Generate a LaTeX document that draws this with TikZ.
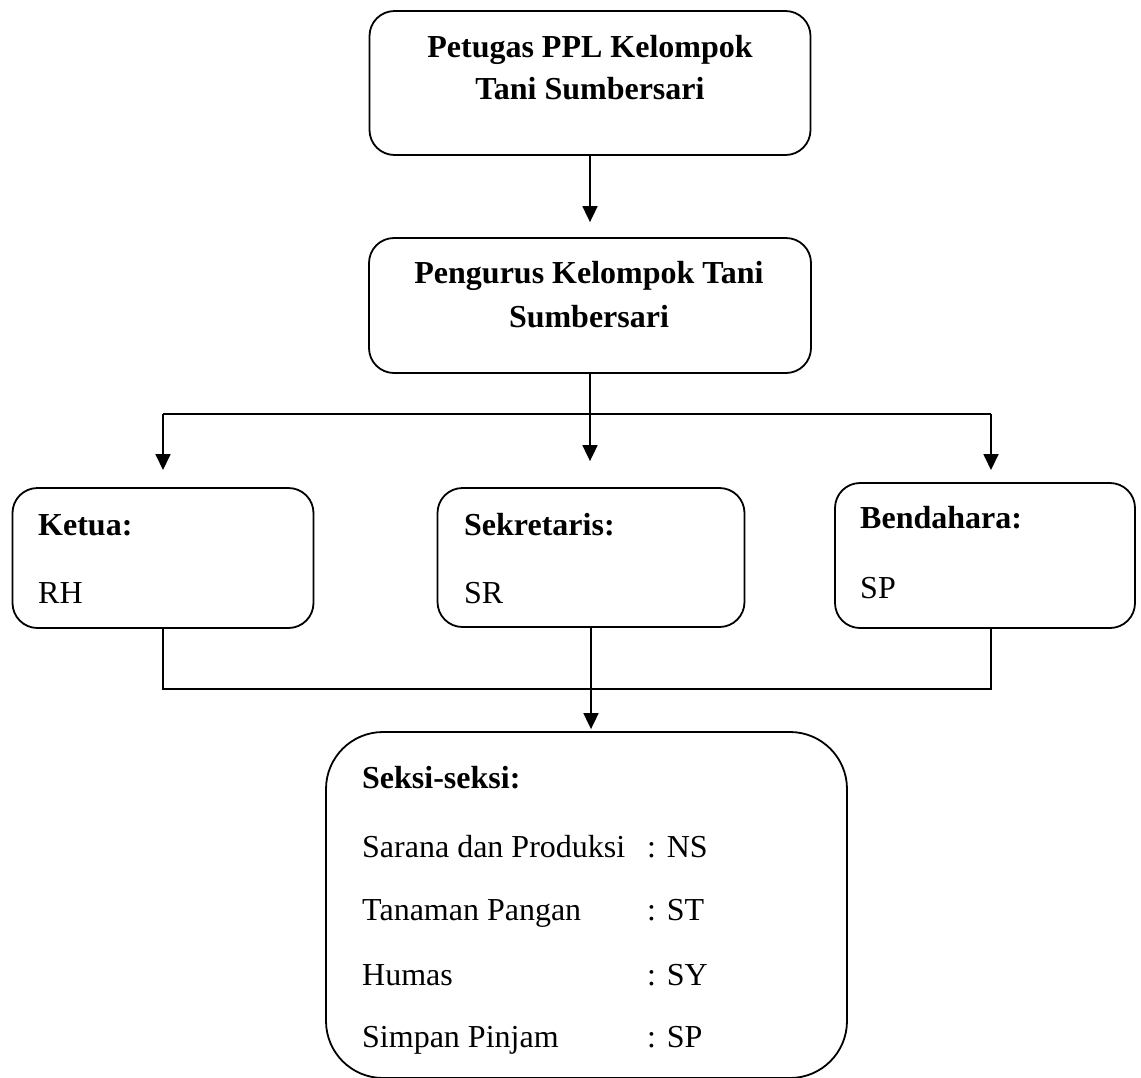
\documentclass[tikz,border=0pt]{standalone}
\usepackage{fontspec}
\setmainfont{Liberation Serif}
\usetikzlibrary{arrows.meta}
\begin{document}
\begin{tikzpicture}[x=1pt,y=-1pt,
  box/.style={draw, line width=1.8pt, rounded corners=25pt, inner sep=0pt},
  bigbox/.style={draw, line width=1.8pt, rounded corners=57pt, inner sep=0pt},
  txt/.style={font=\fontsize{32}{43}\selectfont, inner sep=0pt},
  btxt/.style={font=\fontsize{32}{43}\selectfont\bfseries, inner sep=0pt},
  conn/.style={line width=1.8pt},
  arr/.style={line width=1.8pt, -{Triangle[width=15pt,length=16pt]}}
]
\useasboundingbox (0,0) rectangle (1141,1077);
\clip (0,0) rectangle (1141,1077);
\fill[white] (0,0) rectangle (1141,1077);

% boxes
\node[box, minimum width=441pt, minimum height=144pt] (top) at (590,83) {};
\node[box, minimum width=442pt, minimum height=135pt] (mid) at (590,305.5) {};
\node[box, minimum width=301pt, minimum height=140pt] (ket) at (163,558) {};
\node[box, minimum width=307pt, minimum height=139pt] (sek) at (591,557.5) {};
\node[box, minimum width=300pt, minimum height=145pt] (ben) at (985,555.5) {};
\node[bigbox, minimum width=521pt, minimum height=346pt] (sek2) at (586.5,905) {};

% texts
\node[btxt, anchor=base] (t1) at (590,57) {Petugas PPL Kelompok};
\node[btxt, anchor=base] (t2) at (590,99) {Tani Sumbersari};
\node[btxt, anchor=base] (m1) at (589,283) {Pengurus Kelompok Tani};
\node[btxt, anchor=base] (m2) at (589,327) {Sumbersari};

\node[btxt, anchor=base west] (k1) at (38,535) {Ketua:};
\node[txt, anchor=base west] (k2) at (38,603) {RH};
\node[btxt, anchor=base west] (s1) at (464,535) {Sekretaris:};
\node[txt, anchor=base west] (s2) at (464,603) {SR};
\node[btxt, anchor=base west] (b1) at (860,528) {Bendahara:};
\node[txt, anchor=base west] (b2) at (860,598) {SP};

\node[btxt, anchor=base west] (x0) at (362,788) {Seksi-seksi:};
\node[txt, anchor=base west] (x1) at (362,857) {Sarana dan Produksi};
\node[txt, anchor=base west] (x2) at (362,920) {Tanaman Pangan};
\node[txt, anchor=base west] (x3) at (362,985) {Humas};
\node[txt, anchor=base west] (x4) at (362,1047) {Simpan Pinjam};
\node[txt, anchor=base west] (y1) at (647,857) {: NS};
\node[txt, anchor=base west] (y2) at (647,920) {: ST};
\node[txt, anchor=base west] (y3) at (647,985) {: SY};
\node[txt, anchor=base west] (y4) at (647,1047) {: SP};

% junction coordinates
\coordinate (hL) at (163,414);
\coordinate (hR) at (991,414);
\coordinate (lL) at (163,689);
\coordinate (lR) at (991,689);
\coordinate (bK) at (163,628);
\coordinate (bB) at (991,628);
\coordinate (aK) at (163,470);
\coordinate (aB) at (991,470);

% connectors
\draw[arr] (top.south) -- ([yshift=15pt]mid.north);
\draw[arr] (mid.south) -- ([yshift=26pt]sek.north -| mid.south);
\draw[conn] (hL) -- (hR);
\draw[arr] (hL) -- (aK);
\draw[arr] (hR) -- (aB);
\draw[conn] (bK) -- (lL) -- (lR) -- (bB);
\draw[arr] (sek.south) -- ([yshift=2pt]sek2.north -| sek.south);
\end{tikzpicture}
\end{document}
